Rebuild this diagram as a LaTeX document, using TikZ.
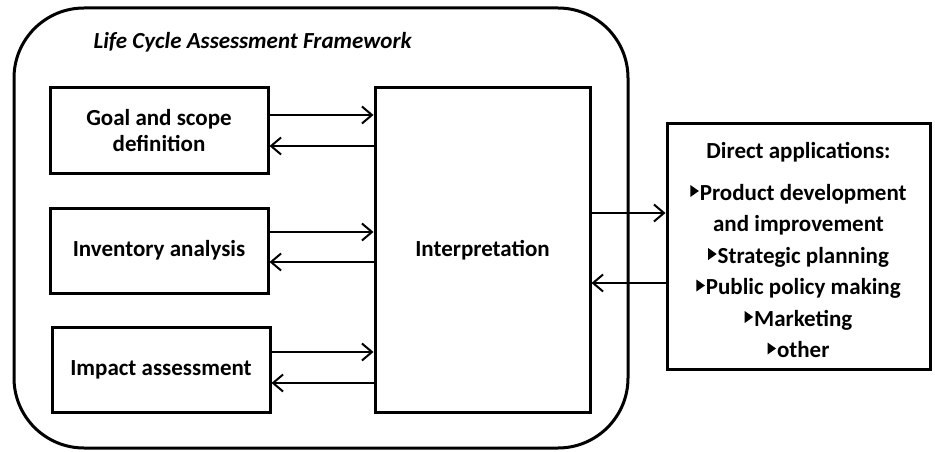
\documentclass[tikz,border=0pt]{standalone}
\usepackage{fontspec}
\setmainfont{Carlito}
\usetikzlibrary{arrows.meta}
\newcommand\tri{\tikz[x=1pt,y=1pt,baseline=0pt]\fill (0,3)--(0,15)--(8.5,9)--cycle;\hspace{1pt}}
\begin{document}
\begin{tikzpicture}[x=1pt,y=-1pt,
  box/.style={draw, line width=3pt, font=\bfseries\fontsize{23}{26}\selectfont, align=center, inner sep=0pt},
  conn/.style={line width=2pt, -{Straight Barb[length=10pt,width=17pt]}}]
\useasboundingbox (0,0) rectangle (935,452);
\draw[line width=3pt, rounded corners=70pt] (14,8) rectangle (628,448);
\node[font=\bfseries\itshape\fontsize{23}{26}\selectfont, anchor=west] (title) at (90,42) {Life Cycle Assessment Framework};
\node[box, minimum width=218pt, minimum height=85pt] (goal) at (159,130.5) {Goal and scope\\definition};
\node[box, minimum width=218pt, minimum height=85pt] (inv) at (159,250.5) {Inventory analysis};
\node[box, minimum width=218pt, minimum height=85pt] (imp) at (161,369.5) {Impact assessment};
\node[box, minimum width=215pt, minimum height=324pt] (interp) at (482.5,250) {\raisebox{3pt}{Interpretation}};
\node[box, minimum width=263pt, minimum height=246pt] (apps) at (798.5,246) {};
\node[font=\bfseries\fontsize{23}{31.5}\selectfont, align=center, inner sep=0pt] (appstext) at (798.5,250) {Direct applications:\\[10pt]\tri Product development\\and improvement\\\tri Strategic planning\\\tri Public policy making\\\tri Marketing\\\tri other};
\draw[conn] (goal.east |- 0,115) -- (interp.west |- 0,115);
\draw[conn] (interp.west |- 0,146) -- (goal.east |- 0,146);
\draw[conn] (inv.east |- 0,232) -- (interp.west |- 0,232);
\draw[conn] (interp.west |- 0,262) -- (inv.east |- 0,262);
\draw[conn] (imp.east |- 0,352) -- (interp.west |- 0,352);
\draw[conn] (interp.west |- 0,383) -- (imp.east |- 0,383);
\draw[conn] (interp.east |- 0,213) -- (apps.west |- 0,213);
\draw[conn] (apps.west |- 0,283) -- (interp.east |- 0,283);
\end{tikzpicture}
\end{document}
